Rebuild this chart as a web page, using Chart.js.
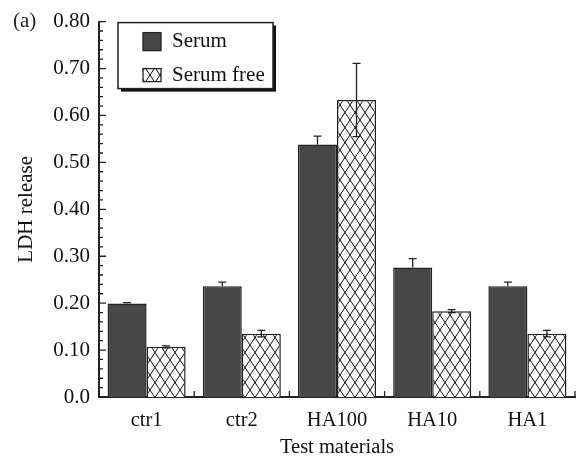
<!DOCTYPE html>
<html>
<head>
<meta charset="utf-8">
<script src="https://cdn.jsdelivr.net/npm/chart.js@4"></script>
<style>
  html, body { margin: 0; padding: 0; background: #fff; }
  #wrap { width: 580px; height: 461px; }
</style>
</head>
<body>
<div id="wrap"><canvas id="chart"></canvas></div>
<script>
const categories = ['ctr1', 'ctr2', 'HA100', 'HA10', 'HA1']
const serum = [0.199, 0.236, 0.538, 0.276, 0.236]
const serumErr = [0.002, 0.009, 0.018, 0.019, 0.009]
const serumFree = [0.107, 0.135, 0.633, 0.183, 0.135]
const serumFreeErr = [0.002, 0.007, 0.078, 0.003, 0.007]
const yTickLabels = ['0.0', '0.10', '0.20', '0.30', '0.40', '0.50', '0.60', '0.70', '0.80']

const ink = '#222'
const darkFill = '#474747'

function makeHatch() {
  const c = document.createElement('canvas')
  c.width = 10
  c.height = 15
  const g = c.getContext('2d')
  g.fillStyle = '#fff'
  g.fillRect(0, 0, 10, 15)
  g.strokeStyle = '#111'
  g.lineWidth = 1
  g.beginPath()
  g.moveTo(0, 0); g.lineTo(10, 15)
  g.moveTo(10, 0); g.lineTo(0, 15)
  g.stroke()
  return g.createPattern(c, 'repeat')
}
const hatch = makeHatch()

// error bars: Serum only shows the upper half, the hatched bars show both
const errorBars = {
  id: 'errorBars',
  afterDatasetsDraw(chart) {
    const { ctx } = chart
    const y = chart.scales.y
    const errs = [serumErr, serumFreeErr]
    ctx.save()
    ctx.strokeStyle = ink
    ctx.lineWidth = 1.3
    chart.data.datasets.forEach((ds, di) => {
      chart.getDatasetMeta(di).data.forEach((bar, i) => {
        const v = ds.data[i], e = errs[di][i]
        const top = y.getPixelForValue(v + e)
        const bot = di === 0 ? y.getPixelForValue(v) : y.getPixelForValue(v - e)
        ctx.beginPath()
        ctx.moveTo(bar.x, top); ctx.lineTo(bar.x, bot)
        ctx.moveTo(bar.x - 4, top); ctx.lineTo(bar.x + 4, top)
        if (di === 1) { ctx.moveTo(bar.x - 4, bot); ctx.lineTo(bar.x + 4, bot) }
        ctx.stroke()
      })
    })
    ctx.restore()
  }
}

// inward ticks on y (minor every 0.02) and small upward ticks between categories on x
const axisTicks = {
  id: 'axisTicks',
  afterDraw(chart) {
    const { ctx, chartArea } = chart
    const x = chart.scales.x, y = chart.scales.y
    ctx.save()
    ctx.strokeStyle = ink
    ctx.lineWidth = 1.3
    ctx.beginPath()
    for (let i = 0; i <= 40; i++) {
      const py = y.getPixelForValue(i * 0.02)
      const len = i % 5 === 0 ? 7 : 4
      ctx.moveTo(chartArea.left, py); ctx.lineTo(chartArea.left + len, py)
    }
    for (let i = 0; i < categories.length; i++) {
      const px = i === categories.length - 1
        ? chartArea.right
        : (x.getPixelForValue(i) + x.getPixelForValue(i + 1)) / 2
      ctx.moveTo(px, chartArea.bottom); ctx.lineTo(px, chartArea.bottom - 6)
    }
    ctx.stroke()

    ctx.fillStyle = ink
    ctx.font = '21px "Liberation Serif"'
    ctx.textBaseline = 'middle'
    ctx.textAlign = 'left'
    ctx.fillText('(a)', 13, chartArea.top)
    ctx.restore()
  }
}

// boxed legend with drop shadow inside the plot
const boxLegend = {
  id: 'boxLegend',
  afterDraw(chart) {
    const { ctx, chartArea } = chart
    const bx = chartArea.left + 19, by = chartArea.top + 1, bw = 155, bh = 66
    ctx.save()
    ctx.fillStyle = '#111'
    ctx.fillRect(bx + 3, by + 3, bw, bh)
    ctx.fillStyle = '#fff'
    ctx.fillRect(bx, by, bw, bh)
    ctx.strokeStyle = ink
    ctx.lineWidth = 1.5
    ctx.strokeRect(bx, by, bw, bh)

    const ds = chart.data.datasets
    const rows = [
      { fill: darkFill, y: by + 10, h: 18 },
      { fill: hatch, y: by + 46, h: 13 }
    ]
    ctx.font = '21px "Liberation Serif"'
    ctx.textBaseline = 'middle'
    rows.forEach((r, i) => {
      ctx.fillStyle = r.fill
      ctx.fillRect(bx + 25, r.y, 18, r.h)
      ctx.lineWidth = 1.3
      ctx.strokeRect(bx + 25, r.y, 18, r.h)
      ctx.fillStyle = '#111'
      ctx.fillText(ds[i].label, bx + 54, r.y + r.h / 2)
    })
    ctx.restore()
  }
}

Chart.defaults.font.family = '"Liberation Serif", serif'
Chart.defaults.font.size = 21
Chart.defaults.color = '#111'

new Chart(document.getElementById('chart'), {
  type: 'bar',
  data: {
    labels: categories,
    datasets: [
      { label: 'Serum', data: serum, backgroundColor: darkFill, borderColor: ink, borderWidth: 1.5,
        categoryPercentage: 0.82, barPercentage: 1 },
      { label: 'Serum free', data: serumFree, backgroundColor: hatch, borderColor: ink, borderWidth: 1.5,
        categoryPercentage: 0.82, barPercentage: 1 }
    ]
  },
  options: {
    responsive: true,
    maintainAspectRatio: false,
    animation: false,
    layout: { padding: { top: 21, right: 5, left: 0, bottom: 0 } },
    plugins: { legend: { display: false }, tooltip: { enabled: false } },
    scales: {
      x: {
        grid: { display: false, drawTicks: false },
        border: { display: true, color: ink, width: 2 },
        ticks: { padding: 11, font: { size: 20.5 } },
        title: { display: true, text: 'Test materials', font: { size: 20.5 }, padding: { top: 0, bottom: 1 } },
        afterFit(scale) { scale.height = 64 }
      },
      y: {
        min: 0,
        max: 0.8,
        grid: { display: false, drawTicks: false },
        border: { display: true, color: ink, width: 2 },
        ticks: {
          stepSize: 0.1,
          padding: 9,
          font: { size: 21 },
          callback: (v, i) => yTickLabels[i]
        },
        title: { display: true, text: 'LDH release', font: { size: 21 }, padding: { top: 14, bottom: 0 } },
        afterFit(scale) { scale.width = 99 }
      }
    }
  },
  plugins: [errorBars, axisTicks, boxLegend]
})
</script>
</body>
</html>
